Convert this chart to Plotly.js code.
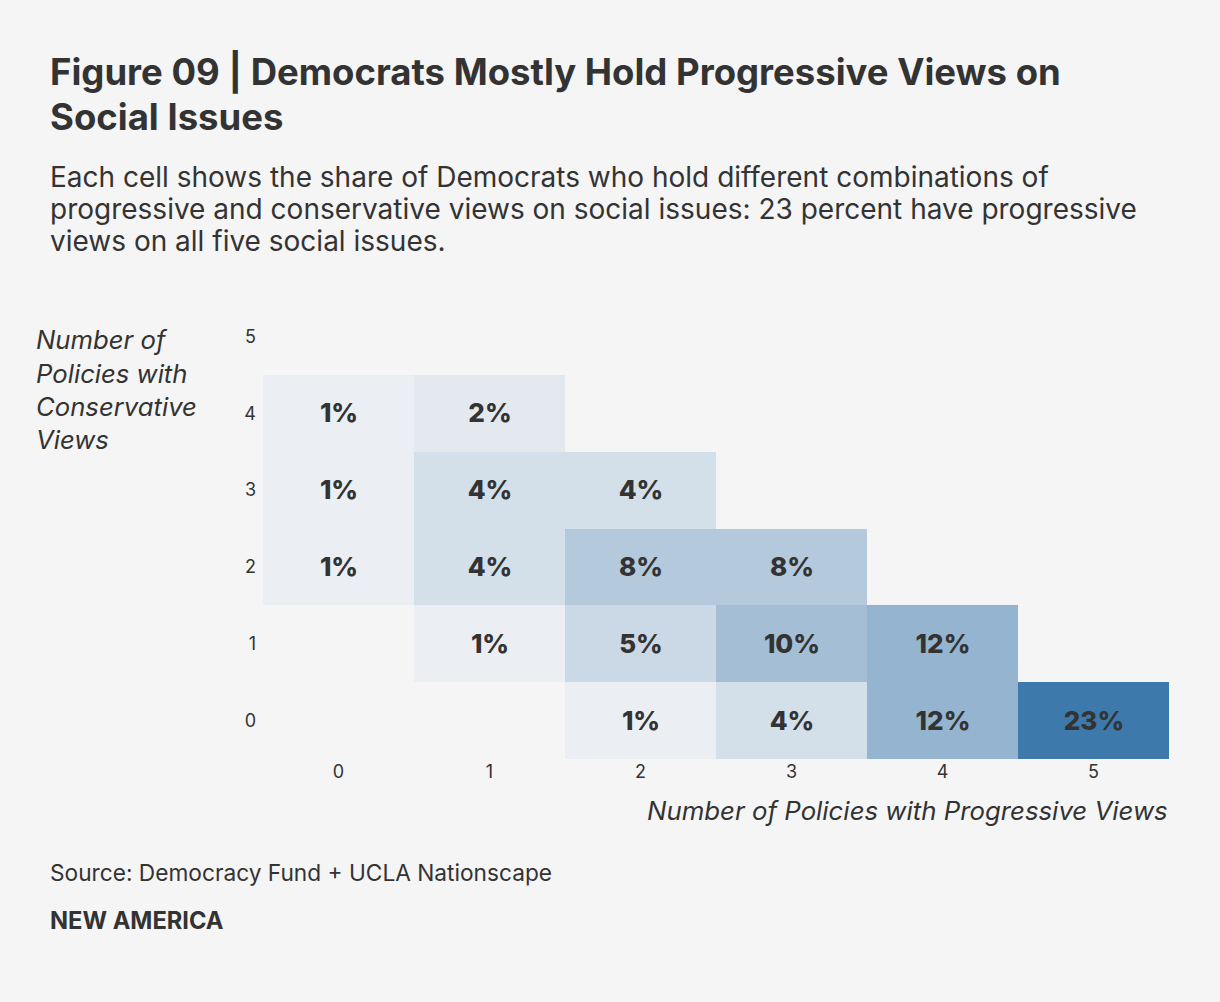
<!DOCTYPE html>
<html>
<head>
<meta charset="utf-8">
<script src="https://cdn.plot.ly/plotly-3.0.1.min.js"></script>
<style>
html,body{margin:0;padding:0;background:#f5f5f5;}
#chart{width:1220px;height:1002px;}
</style>
</head>
<body>
<div id="chart"></div>
<script>
// Data
const progressive = [0, 1, 2, 3, 4, 5];      // x categories
const conservative = [0, 1, 2, 3, 4, 5];     // y categories
// share (%) by conservative row (0..5), progressive column (0..5); null = no cell
const row0 = [null, null, 1, 4, 12, 23];
const row1 = [null, 1, 5, 10, 12, null];
const row2 = [1, 4, 8, 8, null, null];
const row3 = [1, 4, 4, null, null, null];
const row4 = [1, 2, null, null, null, null];
const row5 = [null, null, null, null, null, null];
const tickLabels = ['0', '1', '2', '3', '4', '5'];

const z = [row0, row1, row2, row3, row4, row5];
const txt = z.map(r => r.map(v => v == null ? '' : v + '%'));

const FONT = 'Inter, "Noto Sans", sans-serif';
const X0 = 263, W = 906, YB = 759, H = 461;
const px = p => (p - X0) / W;
const py = p => (YB - p) / H;

const ann = [];
function line(text, x, y, size, opts) {
  opts = opts || {};
  ann.push({
    text: text, xref: 'paper', yref: 'paper', x: px(x), y: py(y),
    xanchor: opts.xanchor || 'left', yanchor: 'middle', showarrow: false,
    font: {family: FONT, size: size, color: opts.color || '#333333',
           weight: opts.weight || 400, style: opts.style || 'normal'}
  });
}
line('Figure 09 | Democrats Mostly Hold Progressive Views on', 48, 72, 36.5, {weight: 700});
line('Social Issues', 48, 117, 36.5, {weight: 700});
line('Each cell shows the share of Democrats who hold different combinations of', 48, 177, 28);
line('progressive and conservative views on social issues: 23 percent have progressive', 48, 209, 28);
line('views on all five social issues.', 48, 241, 28);
line('Number of', 34, 339, 25.7, {style: 'italic'});
line('Policies with', 34, 373, 25.7, {style: 'italic'});
line('Conservative', 34, 406, 25.7, {style: 'italic'});
line('Views', 34, 439, 25.7, {style: 'italic'});
line('Number of Policies with Progressive Views', 1170, 810, 25.8, {style: 'italic', xanchor: 'right'});
line('Source: Democracy Fund + UCLA Nationscape', 48, 872, 22.7);
line('NEW AMERICA', 48, 920, 23.7, {weight: 700});

const trace = {
  type: 'heatmap',
  x: progressive, y: conservative, z: z,
  text: txt, texttemplate: '%{text}',
  textfont: {family: FONT, size: 26, color: '#333333', weight: 800},
  zmin: 0, zmax: 23,
  colorscale: [[0, '#f3f4f6'], [1, '#3d79ab']],
  showscale: false, hoverinfo: 'skip', xgap: 0, ygap: 0
};

const layout = {
  width: 1220, height: 1002,
  paper_bgcolor: '#f5f5f5', plot_bgcolor: '#f5f5f5',
  margin: {l: X0, r: 1220 - X0 - W, t: YB - H, b: 1002 - YB},
  xaxis: {range: [-0.5, 5.5], tickvals: progressive, ticktext: tickLabels,
          showgrid: false, zeroline: false, showline: false, ticks: '',
          tickfont: {family: FONT, size: 18, color: '#333333'}, fixedrange: true},
  yaxis: {range: [-0.5, 5.5], tickvals: conservative, ticktext: tickLabels,
          showgrid: false, zeroline: false, showline: false, ticks: '',
          ticklabelstandoff: 6,
          tickfont: {family: FONT, size: 18, color: '#333333'}, fixedrange: true},
  annotations: ann,
  showlegend: false
};

Plotly.newPlot('chart', [trace], layout, {displayModeBar: false, staticPlot: true});
</script>
</body>
</html>
